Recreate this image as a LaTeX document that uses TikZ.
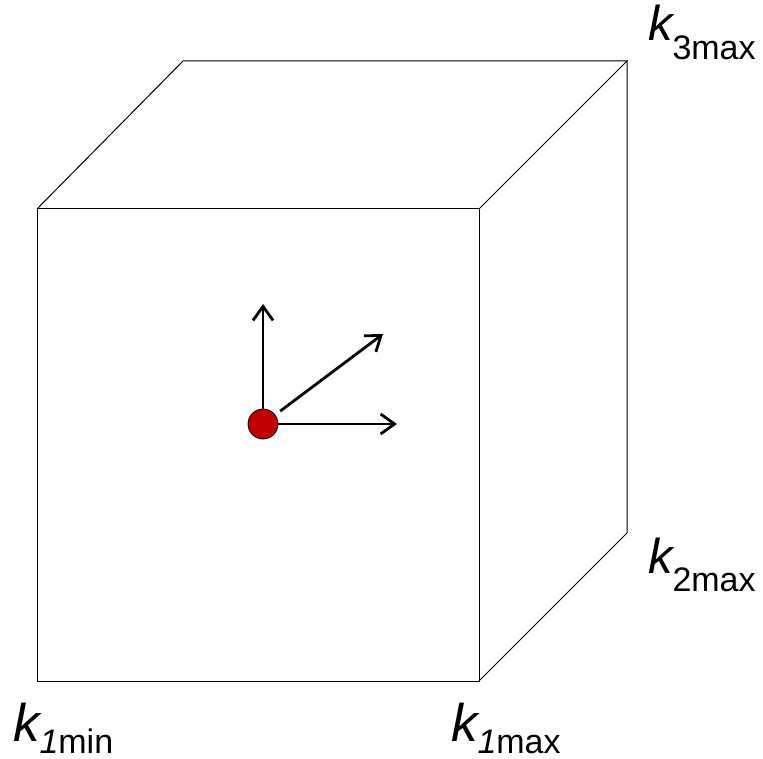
\documentclass[tikz,border=0pt]{standalone}
\usepackage{fontspec}
\setmainfont{Liberation Sans}
\usetikzlibrary{arrows.meta}
\definecolor{dotred}{HTML}{C00000}
\tikzset{
  edge/.style={line width=1pt, line join=miter},
  vec/.style={line width=2.8pt, -{Straight Barb[length=14pt,width=20pt,line width=2.8pt]}},
  lbl/.style={anchor=base west, inner sep=0pt, outer sep=0pt},
}
% #1 k size, #2 drop, #3 italic subscript part, #4 upright subscript part
\newcommand{\klab}[4]{{\fontsize{#1}{60}\selectfont\itshape k}\raisebox{-#2}{\fontsize{34}{38}\selectfont{\itshape #3}#4}}
\begin{document}
\begin{tikzpicture}[x=1pt,y=-1pt]
\useasboundingbox (0,0) rectangle (763,759);
% cube corners
\coordinate (A) at (37,209);
\coordinate (B) at (479,209);
\coordinate (C) at (479,681);
\coordinate (D) at (37,681);
\coordinate (E) at (183,61);
\coordinate (F) at (627,61);
\coordinate (G) at (627,533);
\draw[edge] (A) -- (B) -- (C) -- (D) -- cycle;
\draw[edge] (A) -- (E) -- (F) -- (B);
\draw[edge] (F) -- (G) -- (C);
% vectors
\coordinate (up) at (263,304);
\coordinate (diag) at (383,334);
\coordinate (right) at (397,424);
\node[circle, draw=black, line width=0.8pt, fill=dotred, minimum size=30pt, inner sep=0pt] (dot) at (263,424) {};
\draw[vec] (dot) -- (up);
\draw[vec, shorten <=6pt] (dot) -- (diag);
\draw[vec] (dot) -- (right);
% labels
\node[lbl] (k1min) at (13,741) {\klab{53}{12pt}{1}{min}};
\node[lbl] (k1max) at (451,741) {\klab{53}{12pt}{1}{max}};
\node[lbl] (k2max) at (648,573) {\klab{49}{18pt}{}{2max}};
\node[lbl] (k3max) at (648,41) {\klab{49}{19pt}{}{3max}};
\end{tikzpicture}
\end{document}
